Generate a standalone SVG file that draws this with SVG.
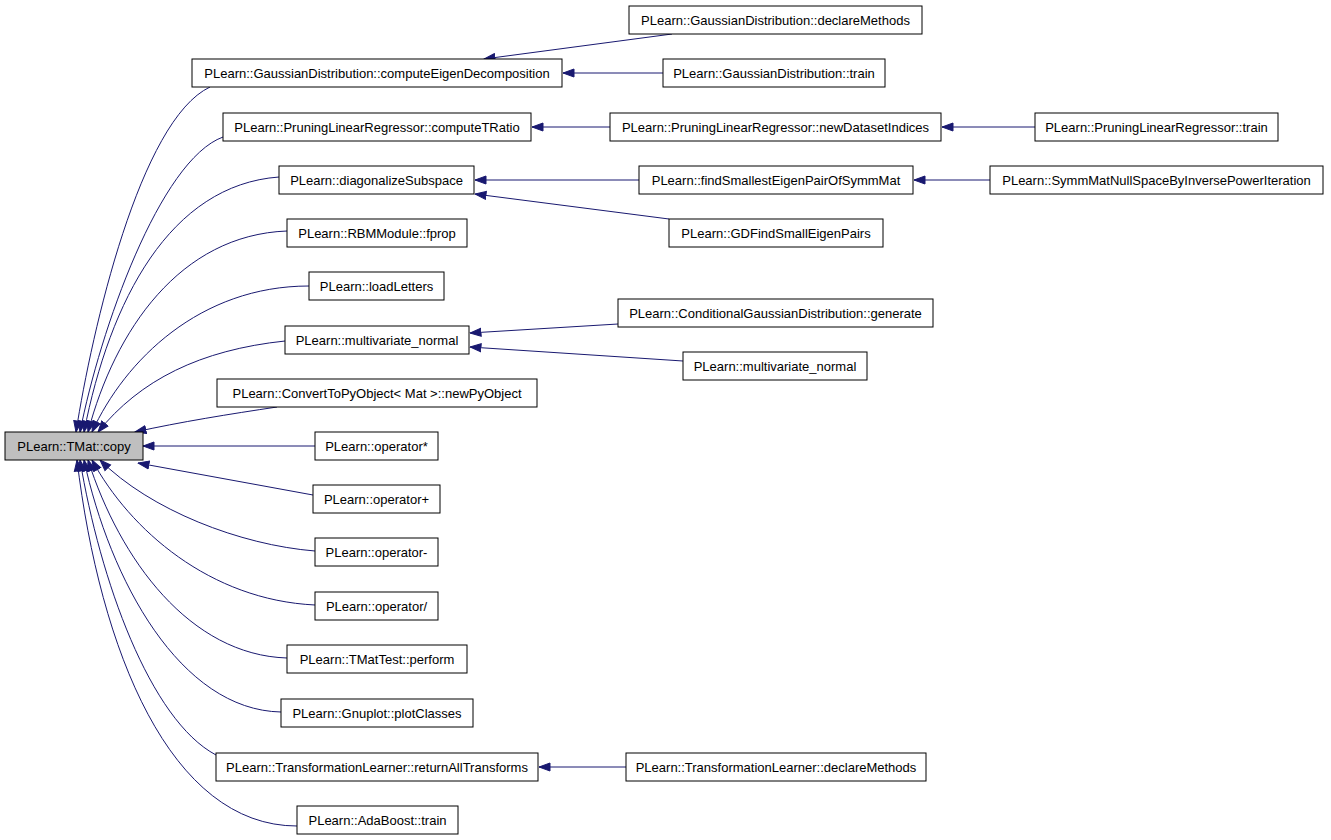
<svg xmlns="http://www.w3.org/2000/svg" width="1331" height="840" viewBox="0 0 1331 840">
<style>
.n rect{fill:#fff;stroke:#000;stroke-width:1}
.n.main rect{fill:#bfbfbf}
.n text{font-family:"Liberation Sans",Arial,sans-serif;font-size:13px;fill:#000;text-anchor:middle}
.e path{fill:none;stroke:#191970;stroke-width:1;marker-end:url(#ah)}
</style>
<defs>
<marker id="ah" markerUnits="userSpaceOnUse" markerWidth="12" markerHeight="10" viewBox="-0.5 -0.5 12 9" refX="11" refY="4" orient="auto">
<path d="M0,0 L11,4 L0,8 z" fill="#191970" stroke="#191970" stroke-width="1"/>
</marker>
</defs>
<rect width="1331" height="840" fill="#fff"/>
<g id="edges" class="e">
<path d="M210,87 C140,120 92,330 76,432"/>
<path d="M223,137 C160,160 100,330 80,432"/>
<path d="M279,177 C170,185 110,300 84,432"/>
<path d="M287,231 C180,235 115,330 88,432"/>
<path d="M309,286 C200,286 125,360 92,432"/>
<path d="M285,341 C200,350 140,380 98,432"/>
<path d="M277,407 C230,414 180,422 135,432"/>
<path d="M315,446 L143,446"/>
<path d="M313,495 L138,463"/>
<path d="M315,551 C240,545 150,510 100,460"/>
<path d="M315,605 C210,600 130,530 92,460"/>
<path d="M287,658 C190,655 120,560 88,460"/>
<path d="M281,712 C180,710 110,580 84,460"/>
<path d="M216,755 C150,720 100,580 80,460"/>
<path d="M297,826 C170,826 100,650 77,460"/>
<path d="M672,34 L484,59"/>
<path d="M663,73 L563,73"/>
<path d="M610,127 L532,127"/>
<path d="M1035,127 L942,127"/>
<path d="M639,180 L475,180"/>
<path d="M990,180 L914,180"/>
<path d="M669,219 L475,194"/>
<path d="M618,324 L470,333"/>
<path d="M683,361 L470,347"/>
<path d="M626,767 L539,767"/>
</g>
<g id="copy" class="n main"><rect x="5" y="432" width="138" height="28"/><text x="74" y="451">PLearn::TMat::copy</text></g>
<g id="computeEigen" class="n"><rect x="192" y="59" width="370" height="28"/><text x="377" y="78">PLearn::GaussianDistribution::computeEigenDecomposition</text></g>
<g id="gdDeclare" class="n"><rect x="629" y="6" width="293" height="28"/><text x="775.5" y="25">PLearn::GaussianDistribution::declareMethods</text></g>
<g id="gdTrain" class="n"><rect x="663" y="59" width="222" height="28"/><text x="774" y="78">PLearn::GaussianDistribution::train</text></g>
<g id="computeTRatio" class="n"><rect x="223" y="113" width="308" height="28"/><text x="377" y="132">PLearn::PruningLinearRegressor::computeTRatio</text></g>
<g id="newDatasetIndices" class="n"><rect x="610" y="113" width="331" height="28"/><text x="775.5" y="132">PLearn::PruningLinearRegressor::newDatasetIndices</text></g>
<g id="plrTrain" class="n"><rect x="1035" y="113" width="243" height="28"/><text x="1156.5" y="132">PLearn::PruningLinearRegressor::train</text></g>
<g id="diagonalize" class="n"><rect x="279" y="166" width="195" height="28"/><text x="376.5" y="185">PLearn::diagonalizeSubspace</text></g>
<g id="findSmallest" class="n"><rect x="639" y="166" width="274" height="28"/><text x="776" y="185">PLearn::findSmallestEigenPairOfSymmMat</text></g>
<g id="symmMat" class="n"><rect x="990" y="166" width="333" height="28"/><text x="1156.5" y="185">PLearn::SymmMatNullSpaceByInversePowerIteration</text></g>
<g id="fprop" class="n"><rect x="287" y="219" width="180" height="28"/><text x="377" y="238">PLearn::RBMModule::fprop</text></g>
<g id="gdFind" class="n"><rect x="669" y="219" width="214" height="28"/><text x="776" y="238">PLearn::GDFindSmallEigenPairs</text></g>
<g id="loadLetters" class="n"><rect x="309" y="272" width="135" height="28"/><text x="376.5" y="291">PLearn::loadLetters</text></g>
<g id="condGauss" class="n"><rect x="618" y="299" width="315" height="28"/><text x="775.5" y="318">PLearn::ConditionalGaussianDistribution::generate</text></g>
<g id="multivariate" class="n"><rect x="285" y="326" width="184" height="28"/><text x="377" y="345">PLearn::multivariate_normal</text></g>
<g id="multivariate2" class="n"><rect x="683" y="352" width="184" height="28"/><text x="775" y="371">PLearn::multivariate_normal</text></g>
<g id="convert" class="n"><rect x="217" y="379" width="320" height="28"/><text x="377" y="398">PLearn::ConvertToPyObject&lt; Mat &gt;::newPyObject</text></g>
<g id="opMul" class="n"><rect x="315" y="432" width="123" height="28"/><text x="376.5" y="451">PLearn::operator*</text></g>
<g id="opAdd" class="n"><rect x="313" y="485" width="127" height="28"/><text x="376.5" y="504">PLearn::operator+</text></g>
<g id="opSub" class="n"><rect x="315" y="538" width="123" height="28"/><text x="376.5" y="557">PLearn::operator-</text></g>
<g id="opDiv" class="n"><rect x="315" y="592" width="123" height="28"/><text x="376.5" y="611">PLearn::operator/</text></g>
<g id="perform" class="n"><rect x="287" y="645" width="180" height="28"/><text x="377" y="664">PLearn::TMatTest::perform</text></g>
<g id="plotClasses" class="n"><rect x="281" y="699" width="192" height="28"/><text x="377" y="718">PLearn::Gnuplot::plotClasses</text></g>
<g id="returnAll" class="n"><rect x="216" y="753" width="322" height="28"/><text x="377" y="772">PLearn::TransformationLearner::returnAllTransforms</text></g>
<g id="tlDeclare" class="n"><rect x="626" y="753" width="300" height="28"/><text x="776" y="772">PLearn::TransformationLearner::declareMethods</text></g>
<g id="adaBoost" class="n"><rect x="297" y="806" width="161" height="28"/><text x="377.5" y="825">PLearn::AdaBoost::train</text></g>
</svg>
